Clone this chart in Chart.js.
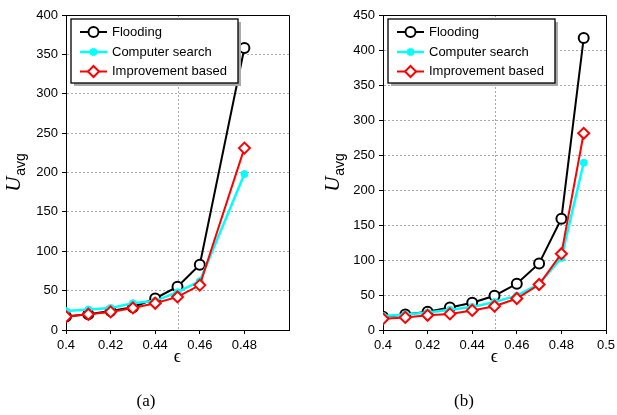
<!DOCTYPE html>
<html>
<head>
<meta charset="utf-8">
<script src="https://cdn.jsdelivr.net/npm/chart.js@4.4.1/dist/chart.umd.min.js"></script>
<style>
body { margin: 0; background: #fff; width: 617px; height: 415px; position: relative; overflow: hidden; }
.wrap { position: absolute; top: 0; height: 415px; }
.cap { position: absolute; top: 391px; font: 17px 'Liberation Serif', 'DejaVu Serif', serif; transform: translateX(-50%); color: #000; }
</style>
</head>
<body>
<div class="wrap" style="left:0;width:310px"><canvas id="chartA" width="310" height="415"></canvas></div>
<div class="wrap" style="left:310px;width:307px"><canvas id="chartB" width="307" height="415"></canvas></div>
<div class="cap" style="left:146px">(a)</div>
<div class="cap" style="left:464px">(b)</div>
<script>
const names = ['Flooding', 'Computer search', 'Improvement based'];

// panel (a)
const epsA = [0.40, 0.41, 0.42, 0.43, 0.44, 0.45, 0.46, 0.48];
const floodA = [17, 20, 24, 29, 40, 55, 83, 358];
const compA = [24, 26, 28, 34, 37, 48, 62, 198];
const imprA = [17, 20, 23, 28, 34, 42, 57, 231];
const xTicksA = [0.40, 0.42, 0.44, 0.46, 0.48];

// panel (b)
const epsB = [0.40, 0.41, 0.42, 0.43, 0.44, 0.45, 0.46, 0.47, 0.48, 0.49];
const floodB = [19, 22, 26, 32, 39, 49, 66, 95, 159, 417];
const compB = [20, 22, 25, 29, 33, 40, 49, 66, 103, 239];
const imprB = [16, 18, 21, 23, 28, 34, 45, 65, 109, 281];
const xTicksB = [0.40, 0.42, 0.44, 0.46, 0.48, 0.50];

const sans = "'Liberation Sans', Arial, sans-serif";
const serif = "'Liberation Serif', 'DejaVu Serif', serif";

function marker(ctx, ds, x, y) {
  ctx.save();
  ctx.lineWidth = ds.pointBorderWidth;
  ctx.strokeStyle = ds.borderColor;
  ctx.fillStyle = ds.pointBackgroundColor;
  ctx.setLineDash([]);
  ctx.beginPath();
  const r = ds.pointRadius;
  if (ds.pointStyle === 'rectRot') {
    ctx.moveTo(x, y - r); ctx.lineTo(x + r, y); ctx.lineTo(x, y + r); ctx.lineTo(x - r, y); ctx.closePath();
  } else {
    ctx.arc(x, y, r, 0, Math.PI * 2);
  }
  ctx.fill();
  ctx.stroke();
  ctx.restore();
}

const framePlugin = {
  id: 'frame',
  beforeDatasetsDraw(chart) {
    // the only vertical grid line sits at 0.45
    const {ctx, chartArea: a, scales: {x}} = chart;
    const px = Math.round(x.getPixelForValue(0.45)) + 0.5;
    ctx.save();
    ctx.strokeStyle = '#aaa';
    ctx.lineWidth = 1;
    ctx.setLineDash([2, 2]);
    ctx.beginPath(); ctx.moveTo(px, a.top); ctx.lineTo(px, a.bottom); ctx.stroke();
    ctx.restore();
  },
  afterDraw(chart, args, opts) {
    const {ctx, chartArea: a} = chart;
    const l = Math.round(a.left) + 0.5, r = Math.round(a.right) + 0.5;
    const t = Math.round(a.top) + 0.5, b = Math.round(a.bottom) + 0.5;
    ctx.save();
    ctx.strokeStyle = '#000';
    ctx.lineWidth = 1;
    ctx.beginPath(); ctx.moveTo(l, t); ctx.lineTo(r, t); ctx.lineTo(r, b); ctx.stroke();

    // legend box with shadow
    const bx = a.left + 5, by = a.top + 4, bw = 167, bh = 64;
    ctx.fillStyle = '#aaa';
    ctx.fillRect(bx + 3, by + 3, bw, bh);
    ctx.fillStyle = '#fff';
    ctx.fillRect(bx, by, bw, bh);
    ctx.lineWidth = 1.3;
    ctx.strokeRect(bx, by, bw, bh);
    const rows = [13, 33, 52.5];
    chart.data.datasets.forEach((ds, i) => {
      const y = by + rows[i];
      ctx.strokeStyle = ds.borderColor;
      ctx.lineWidth = ds.borderWidth;
      ctx.beginPath(); ctx.moveTo(bx + 9, y); ctx.lineTo(bx + 36, y); ctx.stroke();
      marker(ctx, ds, bx + 22.5, y);
      ctx.fillStyle = '#000';
      ctx.font = '13px ' + sans;
      ctx.textBaseline = 'middle';
      ctx.textAlign = 'left';
      ctx.fillText(ds.label, bx + 41, y);
    });

    // y axis title U_avg
    ctx.translate(opts.labelX, (a.top + a.bottom) / 2);
    ctx.rotate(-Math.PI / 2);
    ctx.fillStyle = '#000';
    ctx.textBaseline = 'alphabetic';
    ctx.font = 'italic 21px ' + serif;
    const wU = ctx.measureText('U').width;
    ctx.font = '14px ' + sans;
    const wS = ctx.measureText('avg').width;
    const x0 = -(wU + wS + 1) / 2;
    ctx.font = 'italic 21px ' + serif;
    ctx.fillText('U', x0, 0);
    ctx.font = '14px ' + sans;
    ctx.fillText('avg', x0 + wU + 1, 5);
    ctx.restore();
  }
};

function makeChart(id, eps, flood, comp, impr, yMax, xTicks, axisW, padRight, labelX) {
  const pts = arr => arr.map((v, i) => ({x: eps[i], y: v}));
  const tickFont = {family: sans, size: 13};
  return new Chart(document.getElementById(id), {
    type: 'line',
    data: {
      datasets: [
        {label: names[0], data: pts(flood), borderColor: '#000', pointBackgroundColor: '#fff',
         pointStyle: 'circle', pointRadius: 5, pointBorderWidth: 2, borderWidth: 2, order: 2},
        {label: names[1], data: pts(comp), borderColor: '#00ffff', pointBackgroundColor: '#00ffff',
         pointStyle: 'circle', pointRadius: 3.5, pointBorderWidth: 1, borderWidth: 2.5, order: 1},
        {label: names[2], data: pts(impr), borderColor: '#ff0000', pointBackgroundColor: '#fff',
         pointStyle: 'rectRot', pointRadius: 5.5, pointBorderWidth: 2, borderWidth: 2, order: 0}
      ]
    },
    options: {
      responsive: false,
      animation: false,
      layout: {padding: {left: 0, top: 15, right: padRight, bottom: 47}},
      plugins: {legend: {display: false}, tooltip: {enabled: false}, frame: {labelX: labelX}},
      scales: {
        x: {
          type: 'linear', min: 0.4, max: 0.5,
          afterBuildTicks: s => { s.ticks = xTicks.map(v => ({value: v})); },
          afterFit: s => { s.height = 38; s.paddingLeft = 0; s.paddingRight = 0; },
          ticks: {callback: v => String(+v.toFixed(2)), font: tickFont, color: '#000', padding: 4, maxRotation: 0, autoSkip: false},
          grid: {drawOnChartArea: false, tickLength: 4, tickColor: '#000'},
          border: {color: '#000'},
          title: {display: true, text: 'ϵ', font: {family: serif, size: 18}, color: '#000', padding: 0}
        },
        y: {
          min: 0, max: yMax,
          afterFit: s => { s.width = axisW; s.paddingTop = 0; s.paddingBottom = 0; },
          ticks: {stepSize: 50, font: tickFont, color: '#000', padding: 4},
          grid: {color: '#aaa', tickLength: 4, tickColor: '#000'},
          border: {color: '#000', dash: [2, 2]}
        }
      }
    },
    plugins: [framePlugin]
  });
}

makeChart('chartA', epsA, floodA, compA, imprA, 400, xTicksA, 66, 21, 20);
makeChart('chartB', epsB, floodB, compB, imprB, 450, xTicksB, 73, 11, 29);
</script>
</body>
</html>
